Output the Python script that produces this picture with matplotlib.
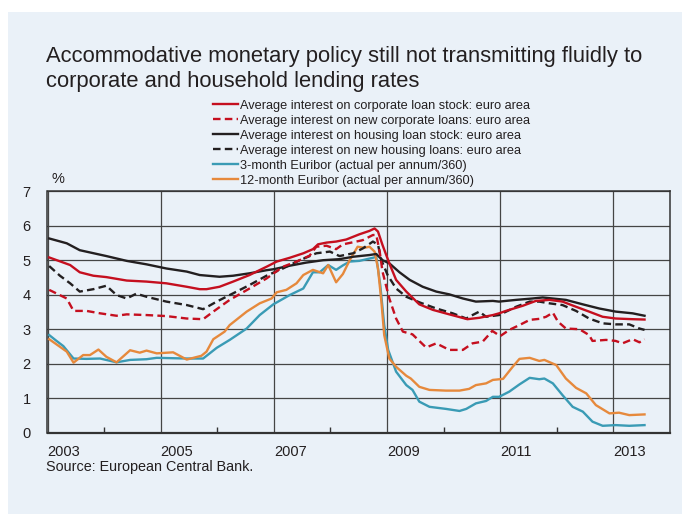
import matplotlib
matplotlib.use('Agg')
import matplotlib.pyplot as plt
from matplotlib.patches import Rectangle

plt.rcParams['font.family'] = ['Liberation Sans', 'DejaVu Sans']

# ---- data (fractional year, % per annum) ----
corp_stock_x = [2003.03, 2003.40, 2003.57, 2003.81, 2004.04, 2004.40, 2004.75, 2005.10, 2005.46,
                2005.69, 2005.81, 2006.04, 2006.28, 2006.57, 2006.87, 2007.05, 2007.28, 2007.52,
                2007.69, 2007.78, 2007.93, 2008.10, 2008.28, 2008.51, 2008.69, 2008.78, 2008.84,
                2008.92, 2009.04, 2009.16, 2009.34, 2009.57, 2009.81, 2010.10, 2010.42, 2010.63,
                2010.87, 2010.98, 2011.10, 2011.40, 2011.63, 2011.87, 2012.10, 2012.34, 2012.57,
                2012.81, 2013.04, 2013.34, 2013.55]
corp_stock_y = [5.08, 4.86, 4.65, 4.55, 4.51, 4.41, 4.38, 4.33, 4.23,
                4.16, 4.16, 4.23, 4.38, 4.57, 4.81, 4.96, 5.07, 5.20,
                5.32, 5.46, 5.51, 5.54, 5.60, 5.75, 5.85, 5.92, 5.83,
                5.44, 4.91, 4.43, 4.09, 3.72, 3.56, 3.43, 3.29, 3.33,
                3.41, 3.46, 3.53, 3.68, 3.82, 3.85, 3.80, 3.65, 3.51,
                3.36, 3.31, 3.29, 3.28]

corp_new_x = [2003.03, 2003.34, 2003.46, 2003.69, 2003.93, 2004.22, 2004.40, 2004.75, 2005.10,
              2005.46, 2005.75, 2005.93, 2006.22, 2006.57, 2006.87, 2007.16, 2007.40, 2007.63,
              2007.75, 2007.93, 2008.10, 2008.22, 2008.34, 2008.57, 2008.75, 2008.81, 2008.87,
              2008.92, 2009.04, 2009.16, 2009.28, 2009.45, 2009.69, 2009.87, 2010.10, 2010.34,
              2010.51, 2010.69, 2010.86, 2011.00, 2011.16, 2011.34, 2011.52, 2011.69, 2011.81,
              2011.93, 2012.02, 2012.16, 2012.40, 2012.57, 2012.63, 2012.87, 2013.04, 2013.16,
              2013.34, 2013.46, 2013.55]
corp_new_y = [4.14, 3.89, 3.53, 3.53, 3.46, 3.39, 3.43, 3.41, 3.38,
              3.31, 3.29, 3.51, 3.85, 4.18, 4.47, 4.81, 4.96, 5.13,
              5.39, 5.42, 5.32, 5.46, 5.50, 5.58, 5.73, 5.73, 5.25,
              4.67, 3.89, 3.31, 2.93, 2.85, 2.47, 2.59, 2.40, 2.40,
              2.59, 2.64, 2.95, 2.80, 2.98, 3.12, 3.27, 3.30, 3.36,
              3.48, 3.22, 3.02, 3.00, 2.83, 2.66, 2.69, 2.66, 2.59,
              2.71, 2.62, 2.71]

house_stock_x = [2003.03, 2003.34, 2003.57, 2004.04, 2004.40, 2004.75, 2005.10, 2005.46, 2005.69,
                 2006.04, 2006.28, 2006.57, 2006.87, 2007.00, 2007.28, 2007.57, 2007.87, 2008.16,
                 2008.40, 2008.69, 2008.81, 2008.92, 2009.04, 2009.22, 2009.40, 2009.63, 2009.87,
                 2010.10, 2010.34, 2010.57, 2010.87, 2010.98, 2011.28, 2011.57, 2011.75, 2012.16,
                 2012.46, 2012.75, 2013.04, 2013.34, 2013.55]
house_stock_y = [5.63, 5.49, 5.29, 5.12, 4.98, 4.88, 4.76, 4.67, 4.57,
                 4.52, 4.55, 4.62, 4.71, 4.74, 4.84, 4.93, 5.00, 5.03,
                 5.10, 5.15, 5.18, 5.00, 4.91, 4.65, 4.43, 4.23, 4.09,
                 4.01, 3.89, 3.80, 3.82, 3.80, 3.85, 3.89, 3.92, 3.85,
                 3.72, 3.60, 3.51, 3.46, 3.39]

house_new_x = [2003.03, 2003.22, 2003.40, 2003.57, 2003.81, 2004.04, 2004.22, 2004.40, 2004.57,
               2004.75, 2005.10, 2005.46, 2005.75, 2005.99, 2006.28, 2006.57, 2006.87, 2007.16,
               2007.46, 2007.75, 2007.99, 2008.16, 2008.40, 2008.57, 2008.75, 2008.84, 2008.90,
               2009.01, 2009.16, 2009.34, 2009.57, 2009.87, 2010.16, 2010.40, 2010.51, 2010.63,
               2010.75, 2010.98, 2011.28, 2011.52, 2011.69, 2011.87, 2012.10, 2012.34, 2012.57,
               2012.81, 2013.04, 2013.28, 2013.46, 2013.55]
house_new_y = [4.83, 4.55, 4.33, 4.09, 4.16, 4.26, 3.99, 3.89, 4.03,
               3.94, 3.80, 3.70, 3.58, 3.80, 4.04, 4.28, 4.55, 4.76,
               5.00, 5.20, 5.25, 5.12, 5.20, 5.34, 5.54, 5.45, 5.00,
               4.57, 4.18, 3.94, 3.78, 3.60, 3.46, 3.31, 3.41, 3.51,
               3.36, 3.41, 3.65, 3.80, 3.80, 3.75, 3.70, 3.53, 3.31,
               3.17, 3.14, 3.14, 3.02, 2.98]

eur3m_x = [2003.03, 2003.16, 2003.28, 2003.46, 2003.69, 2003.93, 2004.22, 2004.46, 2004.75,
           2004.93, 2005.46, 2005.75, 2005.99, 2006.22, 2006.52, 2006.75, 2006.99, 2007.28,
           2007.52, 2007.69, 2007.81, 2007.96, 2008.10, 2008.22, 2008.34, 2008.51, 2008.75,
           2008.81, 2008.88, 2008.95, 2009.02, 2009.16, 2009.34, 2009.45, 2009.57, 2009.75,
           2010.04, 2010.28, 2010.40, 2010.57, 2010.75, 2010.87, 2010.98, 2011.16, 2011.34,
           2011.52, 2011.69, 2011.78, 2011.93, 2012.10, 2012.28, 2012.46, 2012.63, 2012.81,
           2013.04, 2013.28, 2013.55]
eur3m_y = [2.83, 2.66, 2.51, 2.15, 2.14, 2.15, 2.04, 2.11, 2.13,
           2.17, 2.15, 2.15, 2.46, 2.69, 3.02, 3.41, 3.72, 3.99,
           4.18, 4.65, 4.65, 4.86, 4.72, 4.85, 4.96, 4.98, 5.07,
           5.10, 4.28, 3.12, 2.40, 1.77, 1.38, 1.24, 0.90, 0.75,
           0.69, 0.63, 0.69, 0.85, 0.92, 1.04, 1.04, 1.19, 1.40,
           1.59, 1.55, 1.57, 1.43, 1.09, 0.75, 0.61, 0.32, 0.20,
           0.22, 0.20, 0.22]

eur12m_x = [2003.03, 2003.22, 2003.34, 2003.46, 2003.63, 2003.75, 2003.90, 2004.04, 2004.22,
            2004.46, 2004.63, 2004.75, 2004.93, 2005.22, 2005.46, 2005.72, 2005.81, 2005.93,
            2006.04, 2006.13, 2006.22, 2006.52, 2006.75, 2006.96, 2007.05, 2007.22, 2007.40,
            2007.52, 2007.69, 2007.87, 2007.96, 2008.10, 2008.22, 2008.34, 2008.48, 2008.60,
            2008.69, 2008.78, 2008.84, 2008.90, 2008.95, 2009.04, 2009.16, 2009.34, 2009.42,
            2009.57, 2009.75, 2010.04, 2010.28, 2010.45, 2010.57, 2010.75, 2010.87, 2011.05,
            2011.22, 2011.34, 2011.52, 2011.69, 2011.78, 2011.99, 2012.16, 2012.34, 2012.52,
            2012.69, 2012.93, 2013.10, 2013.28, 2013.55]
eur12m_y = [2.71, 2.49, 2.35, 2.03, 2.25, 2.25, 2.41, 2.20, 2.04,
            2.39, 2.32, 2.38, 2.30, 2.33, 2.12, 2.23, 2.35, 2.71,
            2.83, 2.93, 3.12, 3.51, 3.75, 3.89, 4.07, 4.14, 4.33,
            4.57, 4.72, 4.62, 4.86, 4.36, 4.60, 5.00, 5.39, 5.36,
            5.39, 5.25, 4.76, 3.80, 2.83, 2.15, 1.91, 1.65, 1.57,
            1.33, 1.24, 1.22, 1.22, 1.27, 1.38, 1.43, 1.53, 1.56,
            1.91, 2.14, 2.17, 2.08, 2.11, 1.96, 1.57, 1.30, 1.14,
            0.80, 0.56, 0.58, 0.51, 0.53]

labels = ['Average interest on corporate loan stock: euro area',
          'Average interest on new corporate loans: euro area',
          'Average interest on housing loan stock: euro area',
          'Average interest on new housing loans: euro area',
          '3-month Euribor (actual per annum/360)',
          '12-month Euribor (actual per annum/360)']

major_years = [2003, 2005, 2007, 2009, 2011, 2013]
minor_years = [2004, 2006, 2008, 2010, 2012]
yticks = [0, 1, 2, 3, 4, 5, 6, 7]

RED = '#C50F1F'
BLACK = '#231F20'
TEAL = '#3A9BB5'
ORANGE = '#E6893C'
BG = '#EAF1F8'

W, H = 682, 514
fig = plt.figure(figsize=(W / 100, H / 100), dpi=100)
fig.patch.set_facecolor('white')
fig.patches.append(Rectangle((8 / W, 0), 1, 1 - 12 / H, transform=fig.transFigure,
                             facecolor=BG, edgecolor='none', zorder=-10))

ax = fig.add_axes([47.5 / W, 1 - 432.7 / H, 622.5 / W, 241.5 / H])
ax.set_facecolor('none')

lw = 1.7
dash = (3.2, 1.8)
ax.plot(eur3m_x, eur3m_y, color=TEAL, lw=lw, label=labels[4], zorder=3)
ax.plot(eur12m_x, eur12m_y, color=ORANGE, lw=lw, label=labels[5], zorder=3)
ax.plot(house_stock_x, house_stock_y, color=BLACK, lw=lw, label=labels[2], zorder=4)
ax.plot(house_new_x, house_new_y, color=BLACK, lw=lw, dashes=dash, label=labels[3], zorder=4)
ax.plot(corp_new_x, corp_new_y, color=RED, lw=lw, dashes=dash, label=labels[1], zorder=5)
ax.plot(corp_stock_x, corp_stock_y, color=RED, lw=lw, label=labels[0], zorder=5)

ax.set_xlim(2003, 2014)
ax.set_ylim(0, 7)
ax.set_xticks(major_years)
ax.set_xticklabels([str(y) for y in major_years], ha='left')
ax.set_xticks(minor_years, minor=True)
ax.set_yticks(yticks)
ax.tick_params(axis='x', which='major', length=0, pad=9, labelsize=10.5, colors='#231F20')
ax.tick_params(axis='x', which='minor', direction='in', length=4, width=1, color='#333333')
ax.tick_params(axis='y', length=0, pad=12, labelsize=10.5, colors='#231F20')
ax.grid(True, which='major', color='#454545', lw=0.9, zorder=1)
for s in ax.spines.values():
    s.set_color('#333333')
    s.set_linewidth(1.1)
ax.spines['bottom'].set_linewidth(1.6)

ax.text(0.007, 1.02, '%', transform=ax.transAxes, fontsize=10.5, va='bottom', ha='left',
        color='#231F20')

fig.text(46 / W, 1 - 62.3 / H, 'Accommodative monetary policy still not transmitting fluidly to',
         fontsize=15.8, va='baseline', ha='left', color='#231F20')
fig.text(46 / W, 1 - 86.7 / H, 'corporate and household lending rates',
         fontsize=15.8, va='baseline', ha='left', color='#231F20')

h, l = ax.get_legend_handles_labels()
hd = {lab: hh for hh, lab in zip(h, l)}
leg = fig.legend([hd[x] for x in labels], labels, loc='upper left',
                 bbox_to_anchor=(212.7 / W, 1 - 99.5 / H), frameon=False, fontsize=9.2,
                 handlelength=1.95, handletextpad=0.15, labelspacing=0.24,
                 borderpad=0, borderaxespad=0)
for t in leg.get_texts():
    t.set_color('#231F20')

fig.text(46 / W, 1 - 466.7 / H, 'Source: European Central Bank.', fontsize=10.4,
         va='center', ha='left', color='#231F20')

fig.savefig('out.png', dpi=100, facecolor=fig.get_facecolor())
